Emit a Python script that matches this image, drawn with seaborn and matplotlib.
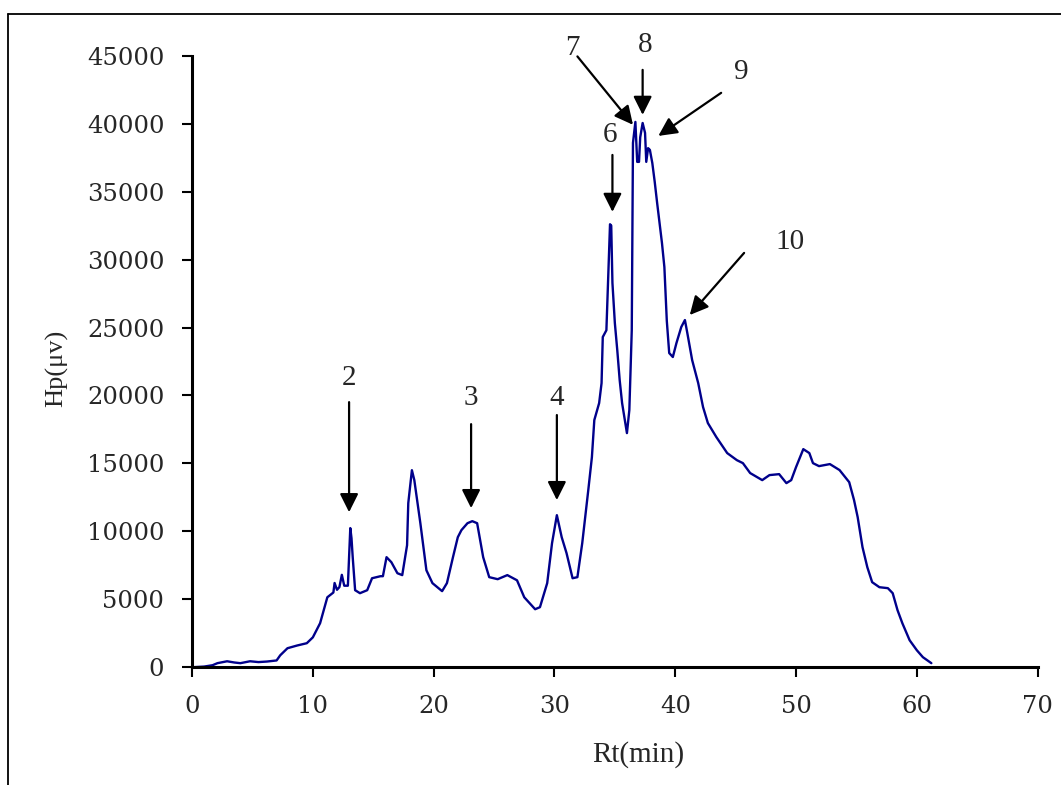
import matplotlib
matplotlib.use("Agg")
import matplotlib.pyplot as plt
import seaborn as sns
import pandas as pd
from matplotlib.lines import Line2D

rt_min = [0.0, 1.0, 1.7, 2.1, 2.9, 3.5, 4.0, 4.8, 5.5, 6.2, 7.0, 7.3, 7.9, 8.7, 9.5,
          10.0, 10.6, 10.9, 11.2, 11.7, 11.8, 12.0, 12.2, 12.4, 12.6, 12.9, 13.1, 13.2,
          13.3, 13.5, 13.9, 14.5, 14.9, 15.6, 15.8, 16.1, 16.5, 17.0, 17.4, 17.8, 17.9,
          18.2, 18.4, 18.6, 18.9, 19.4, 19.9, 20.7, 21.1, 21.6, 22.0, 22.3, 22.8, 23.2,
          23.6, 24.1, 24.6, 25.3, 26.1, 26.9, 27.5, 28.4, 28.8, 29.4, 29.8, 30.2, 30.6,
          31.0, 31.5, 31.9, 32.3, 32.8, 33.1, 33.3, 33.7, 33.9, 34.0, 34.3, 34.5, 34.6,
          34.7, 34.8, 35.0, 35.2, 35.4, 35.6, 36.0, 36.2, 36.4, 36.5, 36.7, 36.85, 37.0,
          37.1, 37.3, 37.5, 37.6, 37.75, 37.9, 38.1, 38.3, 38.5, 38.7, 38.9, 39.1, 39.3,
          39.5, 39.8, 40.1, 40.5, 40.8, 41.0, 41.4, 41.9, 42.3, 42.7, 43.4, 44.3, 45.1,
          45.6, 46.2, 47.2, 47.8, 48.6, 49.2, 49.6, 50.0, 50.6, 51.1, 51.4, 51.9, 52.8,
          53.6, 54.4, 54.8, 55.1, 55.5, 55.9, 56.3, 56.9, 57.6, 58.0, 58.4, 58.8, 59.4,
          60.0, 60.5, 61.2]
hp_uv = [0, 50, 150, 300, 440, 350, 300, 440, 380, 420, 500, 880, 1400, 1600, 1770,
         2200, 3240, 4200, 5150, 5500, 6200, 5700, 5900, 6800, 6000, 6000, 10240, 9500,
         8100, 5670, 5450, 5670, 6550, 6700, 6700, 8100, 7730, 6920, 6780, 8980, 12080,
         14500, 13770, 12520, 10600, 7140, 6190, 5600, 6190, 8100, 9570, 10090, 10600, 10750,
         10600, 8100, 6630, 6480, 6780, 6400, 5150, 4270, 4420, 6190, 9130, 11190, 9570,
         8400, 6550, 6630, 9130, 13030, 15460, 18190, 19440, 20910, 24300, 24800, 30000, 32600,
         32500, 28280, 25330, 23340, 21130, 19440, 17230, 18930, 24800, 38590, 40130, 37190, 37190,
         39000, 40050, 39320, 37190, 38200, 38070, 37110, 35720, 34170, 32700, 31220, 29450, 25500,
         23120, 22830, 23860, 25040, 25550, 24590, 22600, 20910, 19150, 17970, 16940, 15760, 15240,
         15020, 14290, 13770, 14140, 14210, 13550, 13770, 14730, 16050, 15760, 15020, 14800, 14950,
         14510, 13620, 12300, 11050, 8840, 7360, 6260, 5890, 5820, 5450, 4200, 3240, 1990,
         1250, 740, 300]

# peak labels: text, label position, arrow tail, arrow tip (data units)
peak_labels = ["2", "3", "4", "6", "7", "8", "9", "10"]
label_xy = [(13.0, 21280), (23.1, 19810), (30.2, 19810), (34.6, 39180),
            (31.5, 45580), (37.5, 45800), (45.5, 43810), (49.5, 31300)]
tail_xy = [(13.0, 19510), (23.1, 17890), (30.2, 18560), (34.8, 37700),
           (31.9, 44950), (37.3, 43960), (43.8, 42270), (45.7, 30490)]
tip_xy = [(13.0, 11410), (23.1, 11710), (30.2, 12300), (34.8, 33510),
          (36.5, 39920), (37.3, 40650), (38.6, 39100), (41.2, 25920)]

x_ticks = [0, 10, 20, 30, 40, 50, 60, 70]
y_ticks = [0, 5000, 10000, 15000, 20000, 25000, 30000, 35000, 40000, 45000]

sns.set_style("ticks")
plt.rcParams["font.family"] = ["Liberation Serif", "DejaVu Serif"]

df = pd.DataFrame({"Rt": rt_min, "Hp": hp_uv})

fig = plt.figure(figsize=(10.61, 7.85), dpi=100)
ax = fig.add_axes([0.181, 0.150, 0.797, 0.779])
sns.lineplot(data=df, x="Rt", y="Hp", ax=ax, color="#00008B", linewidth=1.7, sort=False)

ax.set_xlim(0, 70)
ax.set_ylim(0, 45000)
ax.set_xticks(x_ticks)
ax.set_yticks(y_ticks)
ax.set_xticklabels([str(v) for v in x_ticks], family="DejaVu Serif", fontsize=17.5)
ax.set_yticklabels([str(v) for v in y_ticks], family="DejaVu Serif", fontsize=17.5)
ax.tick_params(axis="both", direction="out", length=7, width=1.5, color="black", pad=13)
for side in ["top", "right"]:
    ax.spines[side].set_visible(False)
for side in ["left", "bottom"]:
    ax.spines[side].set_linewidth(2.2)
    ax.spines[side].set_color("black")

ax.set_xlabel("Rt(min)", fontsize=21)
ax.set_ylabel("Hp(μv)", fontsize=19)
ax.xaxis.set_label_coords(0.528, -0.120)
ax.yaxis.set_label_coords(-0.147, 0.489)

for lab, lxy, txy, pxy in zip(peak_labels, label_xy, tail_xy, tip_xy):
    ax.text(lxy[0], lxy[1], lab, fontsize=21, ha="center", va="center")
    ax.annotate("", xy=pxy, xytext=txy,
                arrowprops=dict(arrowstyle="-|>", mutation_scale=28, lw=1.6,
                                color="black", shrinkA=0, shrinkB=0))

# outer frame (partially outside the image, as in the reference)
fig.add_artist(Line2D([8 / 1061, 8 / 1061], [-0.1, 1 - 14 / 785],
                      transform=fig.transFigure, color="black", lw=1.3))
fig.add_artist(Line2D([8 / 1061, 1.1], [1 - 14 / 785, 1 - 14 / 785],
                      transform=fig.transFigure, color="black", lw=1.3))

fig.savefig("out.png", dpi=100)
